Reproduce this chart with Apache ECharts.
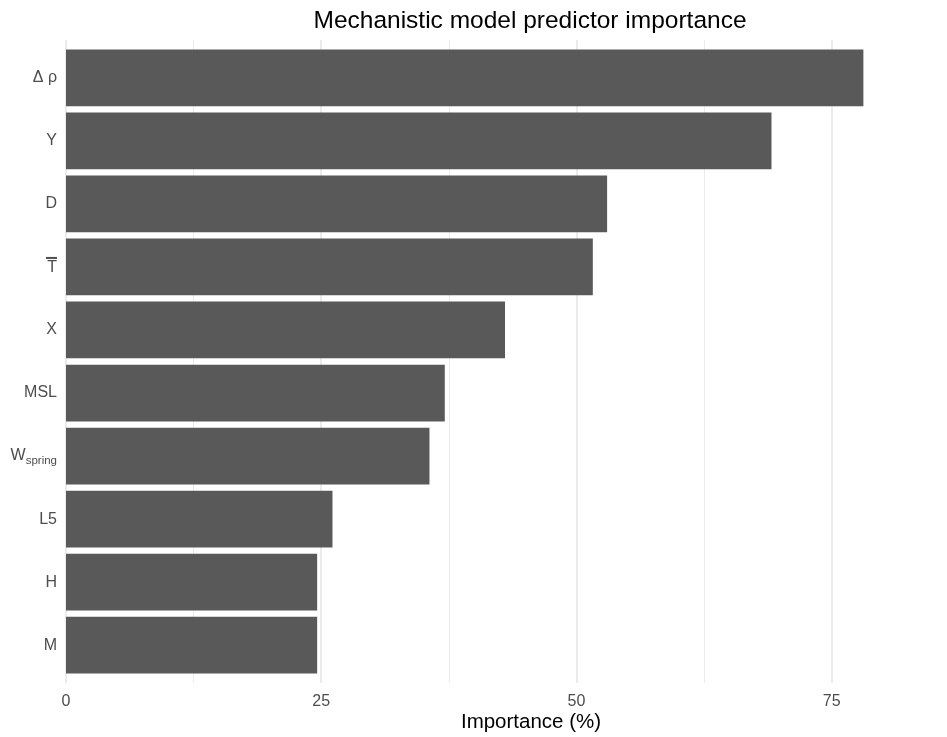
<!DOCTYPE html>
<html>
<head>
<meta charset="utf-8">
<script src="https://cdn.jsdelivr.net/npm/echarts@6/dist/echarts.min.js"></script>
<style>
  html, body { margin: 0; padding: 0; background: #fff; }
  #chart { width: 947px; height: 737px; }
</style>
</head>
<body>
<div id="chart"></div>
<script>
// Predictors, ordered top to bottom
const categories = ['drho', 'Y', 'D', 'Tbar', 'X', 'MSL', 'Wspring', 'L5', 'H', 'M'];
// Importance (%) for each predictor
const importance = [78.1, 69.1, 53.0, 51.6, 43.0, 37.1, 35.6, 26.1, 24.6, 24.6];
// Labelled ticks on the importance axis
const tickValues = [0, 25, 50, 75];

const FONT = '"Liberation Sans", Arial, Helvetica, sans-serif';
const AXIS_MAX = 86.29;

// Rich-text labels for the predictor names (T-bar drawn as a bar line over T)
const labelText = {
  drho: '{n|\u0394 \u03C1}',
  Tbar: '{o| }\n{t|T}',
  Wspring: '{n|W}{s|spring}'
};

const chart = echarts.init(document.getElementById('chart'));

chart.setOption({
  backgroundColor: '#ffffff',
  animation: false,
  title: [
    {
      text: 'Mechanistic model predictor importance',
      left: 525,
      top: 4,
      textAlign: 'center',
      textStyle: { fontFamily: FONT, fontSize: 24.5, fontWeight: 'normal', color: '#000000' }
    },
    {
      text: 'Importance (%)',
      left: 526,
      top: 707,
      textAlign: 'center',
      textStyle: { fontFamily: FONT, fontSize: 20.5, fontWeight: 'normal', color: '#000000' }
    }
  ],
  grid: [
    // bars
    { left: 66, top: 46.3, right: 0, height: 630.4, containLabel: false },
    // panel background grid lines
    { left: 66, top: 40, right: 0, height: 643, containLabel: false }
  ],
  xAxis: [
    {
      gridIndex: 0,
      type: 'value',
      min: 0,
      max: AXIS_MAX,
      interval: 25,
      axisLine: { show: false },
      axisTick: { show: false },
      splitLine: { show: false },
      axisLabel: {
        show: true,
        margin: 17,
        fontFamily: FONT,
        fontSize: 16,
        color: '#4D4D4D',
        showMaxLabel: false,
        formatter: v => (tickValues.indexOf(v) >= 0 ? String(v) : '')
      }
    },
    {
      gridIndex: 1,
      type: 'value',
      min: 0,
      max: AXIS_MAX,
      interval: 25,
      axisLine: { show: false },
      axisTick: { show: false },
      axisLabel: { show: false },
      splitLine: { show: true, showMaxLine: false, lineStyle: { color: '#EBEBEB', width: 2 } },
      minorTick: { show: false, splitNumber: 2 },
      minorSplitLine: { show: true, lineStyle: { color: '#EBEBEB', width: 1 } }
    }
  ],
  yAxis: [
    {
      gridIndex: 0,
      type: 'category',
      data: categories,
      inverse: true,
      axisLine: { show: false },
      axisTick: { show: false },
      splitLine: { show: false },
      axisLabel: {
        margin: 9,
        fontFamily: FONT,
        color: '#4D4D4D',
        formatter: v => labelText[v] || ('{n|' + v + '}'),
        rich: {
          n: { fontFamily: FONT, fontSize: 16, color: '#4D4D4D', lineHeight: 19 },
          s: { fontFamily: FONT, fontSize: 11.5, color: '#4D4D4D', lineHeight: 19, padding: [10, 0, 0, 0] },
          t: { fontFamily: FONT, fontSize: 16, color: '#4D4D4D', lineHeight: 18 },
          o: { fontSize: 1, width: 11, height: 2, lineHeight: 2, backgroundColor: '#4D4D4D', color: 'transparent' }
        }
      }
    },
    {
      gridIndex: 1,
      type: 'value',
      min: 0,
      max: 1,
      show: false
    }
  ],
  series: [
    {
      type: 'bar',
      xAxisIndex: 0,
      yAxisIndex: 0,
      data: importance,
      barCategoryGap: '10%',
      itemStyle: { color: '#595959' },
      z: 3
    }
  ]
});
</script>
</body>
</html>
